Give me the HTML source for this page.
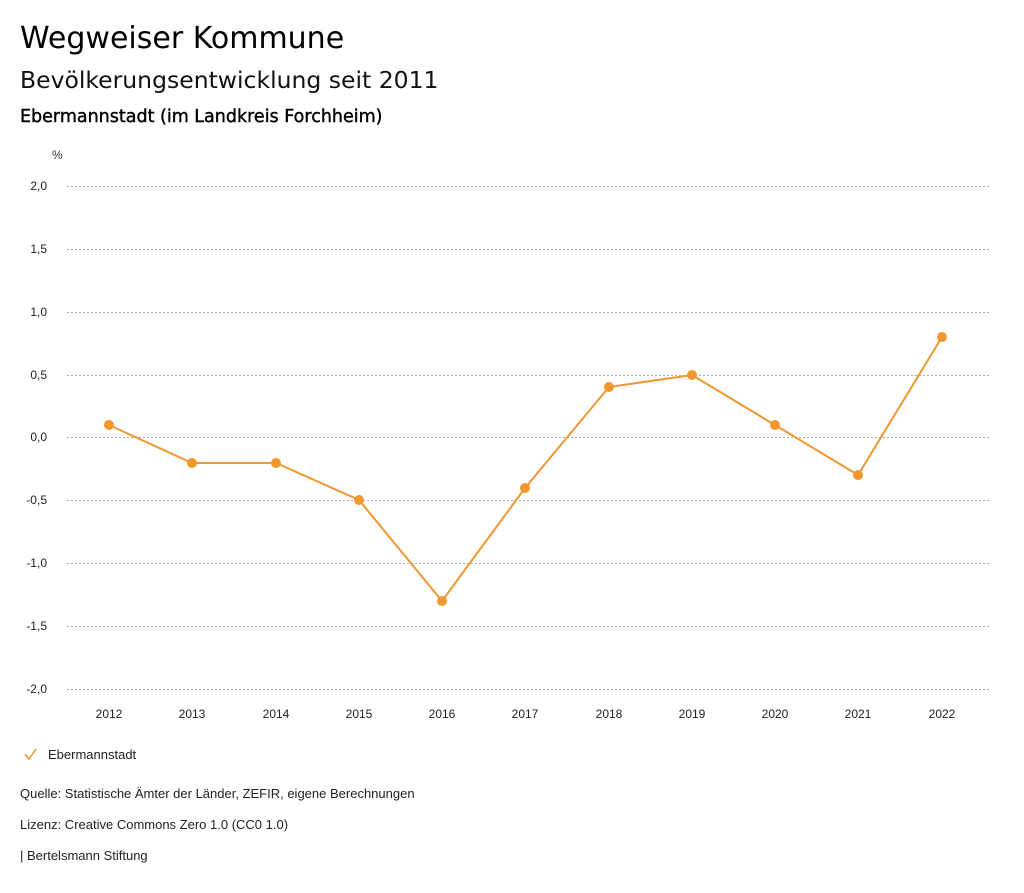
<!DOCTYPE html>
<html><head><meta charset="utf-8"><style>
body{margin:0;background:#fff;font-family:"Liberation Sans","DejaVu Sans",sans-serif;}
</style></head><body>
<svg width="1024" height="888" xmlns="http://www.w3.org/2000/svg" font-family="Liberation Sans, DejaVu Sans, sans-serif">
<text x="20" y="48" font-size="30" fill="#000" font-family="DejaVu Sans, sans-serif">Wegweiser Kommune</text>
<text x="20" y="88" font-size="23.5" fill="#111" font-family="DejaVu Sans, sans-serif">Bevölkerungsentwicklung seit 2011</text>
<text x="20" y="122" font-size="17.5" fill="#000" stroke="#000" stroke-width="0.4" font-family="DejaVu Sans, sans-serif">Ebermannstadt (im Landkreis Forchheim)</text>
<text x="52" y="159" font-size="12" fill="#333">%</text>
<g stroke="#aaa" stroke-dasharray="2,2" stroke-width="1">
<line x1="67" x2="990" y1="186.5" y2="186.5"/>
<line x1="67" x2="990" y1="249.5" y2="249.5"/>
<line x1="67" x2="990" y1="312.5" y2="312.5"/>
<line x1="67" x2="990" y1="375.5" y2="375.5"/>
<line x1="67" x2="990" y1="437.5" y2="437.5"/>
<line x1="67" x2="990" y1="500.5" y2="500.5"/>
<line x1="67" x2="990" y1="563.5" y2="563.5"/>
<line x1="67" x2="990" y1="626.5" y2="626.5"/>
<line x1="67" x2="990" y1="689.5" y2="689.5"/>
</g>
<g font-size="12" fill="#222" text-anchor="end">
<text x="47" y="190">2,0</text><text x="47" y="253">1,5</text><text x="47" y="316">1,0</text>
<text x="47" y="379">0,5</text><text x="47" y="441">0,0</text><text x="47" y="504">-0,5</text>
<text x="47" y="567">-1,0</text><text x="47" y="630">-1,5</text><text x="47" y="693">-2,0</text>
</g>
<g font-size="12" fill="#222" text-anchor="middle">
<text x="109" y="718">2012</text><text x="192" y="718">2013</text><text x="276" y="718">2014</text>
<text x="359" y="718">2015</text><text x="442" y="718">2016</text><text x="525" y="718">2017</text>
<text x="609" y="718">2018</text><text x="692" y="718">2019</text><text x="775" y="718">2020</text>
<text x="858" y="718">2021</text><text x="942" y="718">2022</text>
</g>
<polyline fill="none" stroke="#f0972f" stroke-width="2" points="109,425 192,463 276,463 359,500 442,601 525,488 609,387 692,375 775,425 858,475 942,337"/>
<g fill="#f0972f">
<circle cx="109" cy="425" r="5"/><circle cx="192" cy="463" r="5"/><circle cx="276" cy="463" r="5"/>
<circle cx="359" cy="500" r="5"/><circle cx="442" cy="601" r="5"/><circle cx="525" cy="488" r="5"/>
<circle cx="609" cy="387" r="5"/><circle cx="692" cy="375" r="5"/><circle cx="775" cy="425" r="5"/>
<circle cx="858" cy="475" r="5"/><circle cx="942" cy="337" r="5"/>
</g>
<polyline points="25,754 29,759 36,749" fill="none" stroke="#f0972f" stroke-width="1.5"/>
<text x="48" y="759" font-size="13" fill="#222">Ebermannstadt</text>
<text x="20" y="798" font-size="13" fill="#222">Quelle: Statistische Ämter der Länder, ZEFIR, eigene Berechnungen</text>
<text x="20" y="829" font-size="13" fill="#222">Lizenz: Creative Commons Zero 1.0 (CC0 1.0)</text>
<text x="20" y="860" font-size="13" fill="#222">| Bertelsmann Stiftung</text>
</svg>
</body></html>
